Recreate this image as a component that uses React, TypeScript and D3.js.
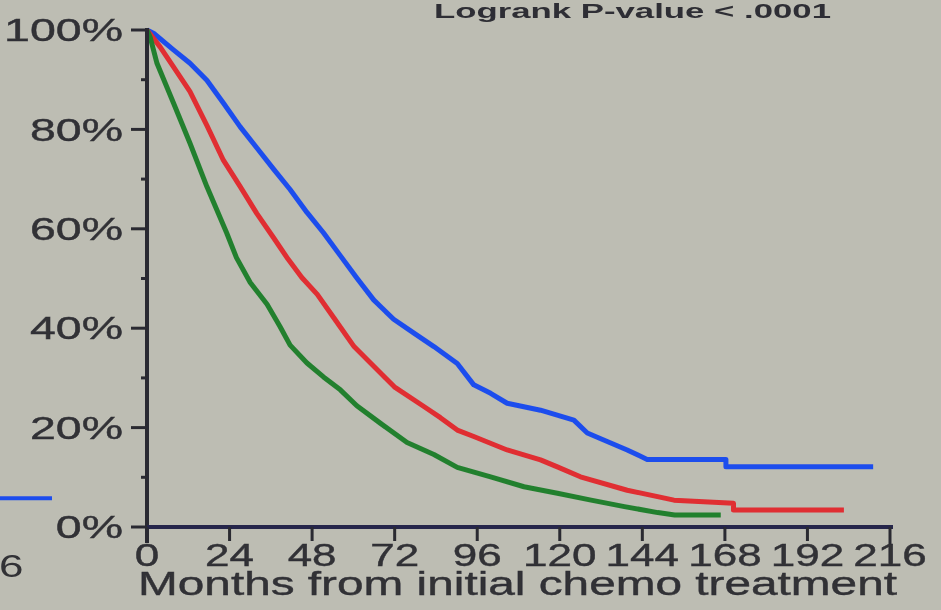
import { scaleLinear, line, curveLinear } from 'd3'

// survival curves (months, % surviving)
const blueTime = [0, 2, 7.7, 12.5, 17.4, 22.2, 27.1, 31.9, 36.8, 41.6, 46.5, 51.3, 56.2, 61.0, 65.9, 71.7, 77.6, 83.4, 90.2, 95.0, 99.9, 104.7, 114.4, 124.1, 128.0, 133.8, 139.6, 145.4, 168.3, 168.3, 211.1]
const blueSurv = [100, 99.3, 96.0, 93.3, 89.9, 85.3, 80.5, 76.3, 72.0, 67.9, 63.3, 59.2, 54.6, 50.1, 45.7, 41.8, 39.0, 36.3, 32.9, 28.6, 26.9, 24.9, 23.5, 21.5, 18.9, 17.2, 15.5, 13.6, 13.6, 12.1, 12.1]

const redTime = [0, 3.8, 7.7, 12.5, 17.4, 22.2, 27.1, 31.9, 36.8, 41.0, 45.0, 49.5, 54.3, 60.2, 66.0, 71.9, 80.6, 85.3, 90.2, 95.0, 104.7, 114.4, 119.3, 126.0, 139.6, 153.2, 170.5, 170.5, 202.6]
const redSurv = [100, 96.6, 92.6, 87.6, 80.8, 73.8, 68.5, 63.1, 58.2, 53.9, 50.2, 46.8, 42.1, 36.3, 32.3, 28.2, 24.2, 22.0, 19.5, 18.2, 15.5, 13.5, 12.1, 10.1, 7.4, 5.4, 4.8, 3.4, 3.4]

const greenTime = [0, 0.9, 2.9, 7.7, 12.5, 17.4, 23.2, 26.0, 30.0, 34.9, 38.7, 41.6, 46.5, 51.3, 56.2, 61.0, 67.8, 75.6, 83.4, 90.2, 99.9, 109.6, 119.3, 129.1, 138.8, 148.5, 153.4, 166.8]
const greenSurv = [100, 98.6, 93.3, 85.3, 77.2, 68.5, 59.1, 54.2, 49.2, 44.8, 40.3, 36.6, 33.0, 30.2, 27.6, 24.4, 20.9, 17.0, 14.6, 12.0, 10.1, 8.1, 6.8, 5.4, 4.1, 2.9, 2.4, 2.4]

const xTicks = [0, 24, 48, 72, 96, 120, 144, 168, 192, 216]
const yTicks = [0, 20, 40, 60, 80, 100]
const yMinorTicks = [10, 30, 50, 70, 90]
const yTickLabel = d => `${d}%`

const title = 'Logrank P-value < .0001'
const xTitle = 'Months from initial chemo treatment'

const width = 941,
      height = 610,
      margin = { top: 30, right: 51, bottom: 83, left: 147 },
      innerWidth = width - margin.left - margin.right,
      innerHeight = height - margin.top - margin.bottom,
      font = '"Liberation Sans", Arial, sans-serif',
      ink = '#303036',
      bg = '#bdbdb3'

const series = [
  { name: 'blue', time: blueTime, surv: blueSurv, color: '#1f4ded' },
  { name: 'red', time: redTime, surv: redSurv, color: '#e02d33' },
  { name: 'green', time: greenTime, surv: greenSurv, color: '#24802f' }
]

const xScale = scaleLinear().domain([0, 216]).range([0, innerWidth])
const yScale = scaleLinear().domain([0, 100]).range([innerHeight, 0])

const AxisLeft = () => (
  <g>
    <line x1={0} x2={0} y1={-2} y2={innerHeight + 16} stroke='#2c2c30' strokeWidth={4} />
    {yTicks.map(t => (
      <g key={t} transform={`translate(0, ${yScale(t)})`}>
        <line x1={-16} x2={0} stroke='#2c2c30' strokeWidth={3} />
        <text
          transform={`translate(-24, 0) scale(1.5, 1)`}
          textAnchor='end'
          dy='0.36em'
          fontSize={31}
          fill={ink}
          stroke={ink}
          strokeWidth={0.4}
          fontFamily={font}
        >{yTickLabel(t)}</text>
      </g>
    ))}
    {yMinorTicks.map(t => (
      <line key={t} x1={-6} x2={0} y1={yScale(t)} y2={yScale(t)} stroke='#2c2c30' strokeWidth={3} />
    ))}
  </g>
)

const AxisBottom = () => (
  <g transform={`translate(0, ${innerHeight})`}>
    <line x1={0} x2={innerWidth + 3} stroke='#25254c' strokeWidth={4} />
    {xTicks.map(t => (
      <g key={t} transform={`translate(${xScale(t)}, 0)`}>
        <line y1={0} y2={t === 216 ? 20 : 14} stroke='#2c2c30' strokeWidth={3} />
        <text
          transform='translate(0, 39) scale(1.42, 1)'
          textAnchor='middle'
          fontSize={31}
          fill={ink}
          stroke={ink}
          strokeWidth={0.4}
          fontFamily={font}
        >{t}</text>
      </g>
    ))}
    <text
      x={-9}
      y={68}
      fontSize={33}
      fill={ink}
      stroke={ink}
      strokeWidth={0.4}
      fontFamily={font}
      textLength={759}
      lengthAdjust='spacingAndGlyphs'
    >{xTitle}</text>
  </g>
)

const Curves = () => (
  <g>
    {series.map(s => {
      const pts = s.time.map((t, i) => [t, s.surv[i]])
      const path = line()
        .x(d => xScale(d[0]))
        .y(d => yScale(d[1]))
        .curve(curveLinear)(pts)
      return (
        <path key={s.name} d={path} fill='none' stroke={s.color} strokeWidth={5} strokeLinejoin='round' />
      )
    })}
  </g>
)

export default function App() {
  return (
    <svg
      width={width}
      height={height}
      style={{ position: 'absolute', left: 0, top: 0, display: 'block' }}
    >
      <defs>
        <filter id='soft' x='-5%' y='-5%' width='110%' height='110%'>
          <feGaussianBlur stdDeviation='0.6' />
        </filter>
      </defs>
      <rect width={width} height={height} fill={bg} />
      <g filter='url(#soft)'>
        {/* cut-off pieces of the neighbouring panel at the left edge */}
        <line x1={0} x2={52} y1={yScale(5.8) + margin.top} y2={yScale(5.8) + margin.top} stroke='#1f4ded' strokeWidth={4} />
        <text transform='translate(-1, 577) scale(1.42, 1)' fontSize={31} fill={ink} fontFamily={font}>6</text>

        <text
          x={434}
          y={18}
          fontSize={21}
          fontWeight='bold'
          fill='#2e2e34'
          fontFamily={font}
          textLength={397}
          lengthAdjust='spacingAndGlyphs'
        >{title}</text>

        <g transform={`translate(${margin.left}, ${margin.top})`}>
          <Curves />
          <AxisLeft />
          <AxisBottom />
        </g>
      </g>
    </svg>
  )
}
